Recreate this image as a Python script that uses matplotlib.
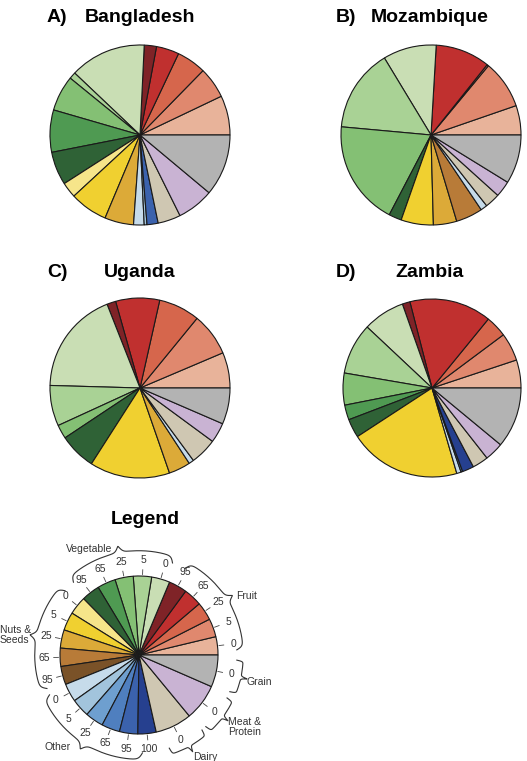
import numpy as np
import matplotlib
matplotlib.use("Agg")
import matplotlib.pyplot as plt

plt.rcParams['font.family'] = ['Liberation Sans', 'DejaVu Sans']

# food group / processing level categories (counter-clockwise from 3 o'clock)
categories = ['Fruit 0', 'Fruit 5', 'Fruit 25', 'Fruit 65', 'Fruit 95',
              'Vegetable 0', 'Vegetable 5', 'Vegetable 25', 'Vegetable 65', 'Vegetable 95',
              'Nuts 0', 'Nuts 5', 'Nuts 25', 'Nuts 65', 'Nuts 95',
              'Other 0', 'Other 5', 'Other 25', 'Other 65', 'Other 95', 'Other 100',
              'Dairy 0', 'Meat 0', 'Grain 0']
colors = ['#e8b39a', '#e0886e', '#d6664c', '#c0302f', '#7f2327',
          '#c9deb4', '#a9d295', '#84c074', '#4f9a52', '#2f6236',
          '#f6e58a', '#f0d030', '#dcaa38', '#b87b38', '#7a5228',
          '#c6dbea', '#a2c4dc', '#6e9fcf', '#4f7fbf', '#3b62ad', '#26408f',
          '#cfc7b2', '#c9b3d3', '#b3b3b3']

# shares (%)
bangladesh = [7.1, 5.6, 5.3, 4.1, 2.2, 13.7, 1.2, 6.4, 7.6, 6.0, 2.8, 6.8, 5.2, 0, 0,
              1.9, 0.5, 0, 0, 2.0, 0, 4.1, 6.6, 11.1]
mozambique = [5.3, 8.7, 0.3, 9.8, 0, 9.6, 14.9, 18.8, 0, 2.3, 0, 5.8, 4.2, 4.8, 0,
              1.2, 0, 0, 0, 0, 0, 2.7, 2.9, 8.8]
uganda = [6.4, 7.7, 7.4, 7.9, 1.6, 18.6, 7.3, 2.5, 0, 6.6, 0, 14.4, 3.9, 0, 0,
          0.9, 0, 0, 0, 0, 0, 4.8, 3.6, 6.5]
zambia = [5.1, 5.1, 3.9, 14.9, 1.4, 7.6, 9.3, 5.8, 2.7, 3.4, 0, 20.3, 0, 0, 0,
          0.8, 0, 0, 0.3, 0, 2.1, 2.9, 3.4, 11.0]
legend_sizes = [1, 1, 1, 1, 1, 1, 1, 1, 1, 1, 1, 1, 1, 1, 1, 1, 1, 1, 1, 1, 1, 2, 2, 1.75]
legend_levels = ['0', '5', '25', '65', '95', '0', '5', '25', '65', '95',
                 '0', '5', '25', '65', '95', '0', '5', '25', '65', '95', '100',
                 '0', '0', '0']
groups = ['Fruit', 'Vegetable', 'Nuts &\nSeeds', 'Other', 'Dairy', 'Meat &\nProtein', 'Grain']
group_members = [5, 5, 5, 6, 1, 1, 1]

W, H = 527, 761
fig = plt.figure(figsize=(W / 100, H / 100), dpi=100)


def pie_axes(cx, cy, r, pad=1.6):
    half = r * pad
    ax = fig.add_axes([(cx - half) / W, 1 - (cy + half) / H, 2 * half / W, 2 * half / H])
    return ax, pad


def draw_pie(ax, pad, values):
    vals = [v for v in values if v > 0]
    cols = [c for v, c in zip(values, colors) if v > 0]
    ax.pie(vals, colors=cols, startangle=0, counterclock=True, radius=1,
           wedgeprops=dict(edgecolor='#1a1a1a', linewidth=0.8))
    ax.set_xlim(-pad, pad)
    ax.set_ylim(-pad, pad)
    ax.axis('off')


def title(x_letter, x_name, y, letter, name):
    fig.text(x_letter / W, 1 - y / H, letter, fontsize=14, fontweight='bold', va='center', ha='left')
    fig.text(x_name / W, 1 - y / H, name, fontsize=14, fontweight='bold', va='center', ha='center')


# country pies
for (cx, cy, r), vals in zip([(140, 135, 90), (431, 135, 90), (140, 388, 90), (432, 388, 89)],
                             [bangladesh, mozambique, uganda, zambia]):
    ax, pad = pie_axes(cx, cy, r)
    draw_pie(ax, pad, vals)

title(47, 140, 18, 'A)', 'Bangladesh')
title(336, 430, 18, 'B)', 'Mozambique')
title(47, 140, 272, 'C)', 'Uganda')
title(336, 430, 272, 'D)', 'Zambia')

# legend pie
ax, pad = pie_axes(139, 655, 79, pad=1.9)
draw_pie(ax, pad, legend_sizes)
fig.text(145 / W, 1 - 520 / H, 'Legend', fontsize=14, fontweight='bold', va='center', ha='center')

total = sum(legend_sizes)
edges = np.concatenate([[0], np.cumsum(legend_sizes)]) / total * 360
for i, lab in enumerate(legend_levels):
    a = np.deg2rad((edges[i] + edges[i + 1]) / 2)
    ax.plot([1.02 * np.cos(a), 1.08 * np.cos(a)], [1.02 * np.sin(a), 1.08 * np.sin(a)],
            color='#444444', lw=0.6, clip_on=False)
    ax.text(1.2 * np.cos(a), 1.2 * np.sin(a), lab, fontsize=7.5, color='#333333',
            ha='center', va='center', clip_on=False)


def brace(ax, a0, a1, r0=1.24, h=0.16, beta=60):
    t = np.linspace(0, 0.5, 200)
    y = 1 / (1 + np.exp(-beta * (t - t[0]))) + 1 / (1 + np.exp(-beta * (t - t[-1])))
    y = np.concatenate([y, y[::-1]])
    ang = np.deg2rad(np.linspace(a0, a1, len(y)))
    r = r0 + h * (y - 0.5)
    ax.plot(r * np.cos(ang), r * np.sin(ang), color='#333333', lw=0.8, clip_on=False)


brace_spans = [(3, 62), (70, 132), (139, 200), (204, 272), (288, 310), (313, 334), (338, 357)]
for a0, a1 in brace_spans:
    brace(ax, a0, a1)

label_pos = [(247, 596, 'center'), (89, 549, 'center'), (0, 635, 'left'), (58, 747, 'center'),
             (205, 757, 'center'), (245, 727, 'center'), (259, 682, 'center')]
for g, (x, y, ha) in zip(groups, label_pos):
    fig.text(x / W, 1 - y / H, g, fontsize=7.5, color='#333333', ha=ha, va='center',
             multialignment='left' if ha == 'left' else 'center', linespacing=1.1)

fig.savefig('out.png', dpi=100)
